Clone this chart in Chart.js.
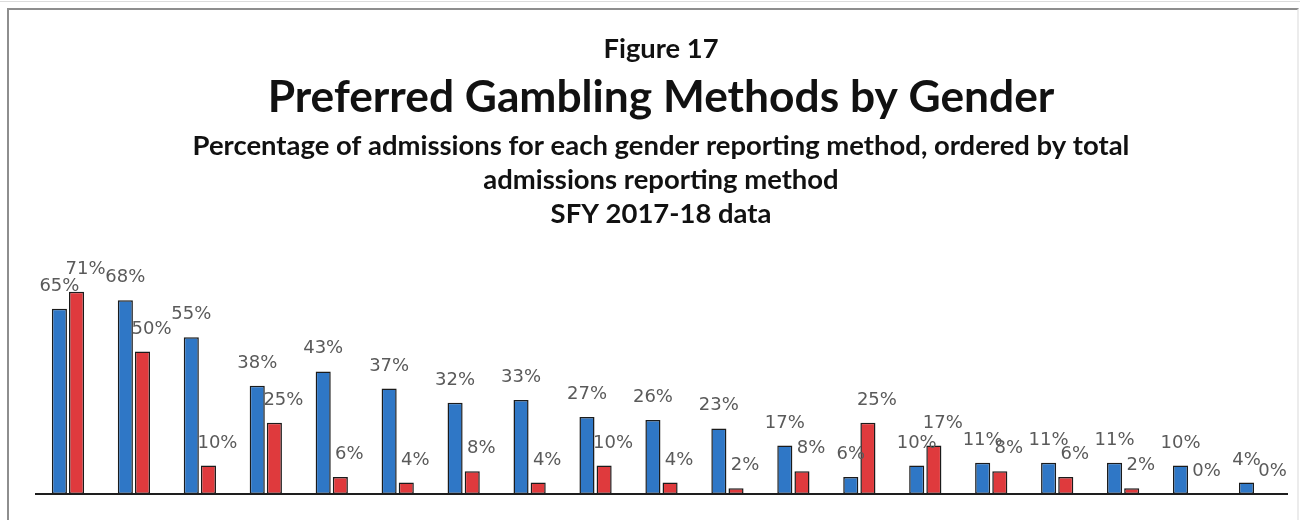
<!DOCTYPE html>
<html>
<head>
<meta charset="utf-8">
<title>Preferred Gambling Methods by Gender</title>
<script src="https://cdn.jsdelivr.net/npm/chart.js@4.4.1/dist/chart.umd.min.js"></script>
<style>
    body { margin: 0; background: #fff; }
    #wrap { position: relative; width: 1300px; height: 520px; overflow: hidden; }
    #frame {
        position: absolute; left: 7px; top: 8px; width: 1288px; height: 600px;
        border: 2px solid #8e8e8e; border-right-color: #ececec;
    }
    #topline { position: absolute; left: 0; top: 1px; width: 1300px; height: 1px; background: #dcdcdc; }
    #chart { position: absolute; left: 0; top: 0; }
</style>
</head>
<body>
<div id="wrap">
    <div id="topline"></div>
    <div id="frame"></div>
    <canvas id="chart" width="1300" height="520"></canvas>
</div>
<script>
// category names are cut off at the bottom of the source image
const categories = [
    'Method 1', 'Method 2', 'Method 3', 'Method 4', 'Method 5', 'Method 6', 'Method 7',
    'Method 8', 'Method 9', 'Method 10', 'Method 11', 'Method 12', 'Method 13', 'Method 14',
    'Method 15', 'Method 16', 'Method 17', 'Method 18', 'Method 19'
];
const maleValues = [65, 68, 55, 38, 43, 37, 32, 33, 27, 26, 23, 17, 6, 10, 11, 11, 11, 10, 4];
const femaleValues = [71, 50, 10, 25, 6, 4, 8, 4, 10, 4, 2, 8, 25, 17, 8, 6, 2, 0, 0];

const figureLabel = 'Figure 17';
const chartTitle = 'Preferred Gambling Methods by Gender';
const subtitleLines = [
    'Percentage of admissions for each gender reporting method, ordered by total',
    'admissions reporting method',
    'SFY 2017-18 data'
];

const titleFamily = 'Lato, "Open Sans", sans-serif';

// size a bold font so the text spans the given width
function fitSize(ctx, text, width) {
    ctx.font = 'bold 100px ' + titleFamily;
    return 100 * width / ctx.measureText(text).width;
}

const titleBlock = {
    id: 'titleBlock',
    afterDraw(chart) {
        const ctx = chart.ctx;
        const cx = 661;
        ctx.save();
        ctx.fillStyle = '#111';
        ctx.textAlign = 'center';
        ctx.textBaseline = 'alphabetic';

        let size = fitSize(ctx, figureLabel, 115);
        ctx.font = 'bold ' + size + 'px ' + titleFamily;
        ctx.fillText(figureLabel, cx, 58);

        size = fitSize(ctx, chartTitle, 787);
        ctx.font = 'bold ' + size + 'px ' + titleFamily;
        ctx.fillText(chartTitle, cx, 112);

        size = fitSize(ctx, subtitleLines[0], 937);
        ctx.font = 'bold ' + size + 'px ' + titleFamily;
        const baselines = [155, 189, 223];
        subtitleLines.forEach((line, i) => ctx.fillText(line, cx, baselines[i]));
        ctx.restore();
    }
};

// label nudge per series: the female labels sit a little right of their bars
const labelShift = [0, 9];

const barLabels = {
    id: 'barLabels',
    afterDatasetsDraw(chart) {
        const ctx = chart.ctx;
        const zero = chart.scales.y.getPixelForValue(0);

        ctx.save();
        ctx.strokeStyle = '#1e1e1e';
        ctx.lineWidth = 2;
        ctx.beginPath();
        ctx.moveTo(chart.chartArea.left, zero);
        ctx.lineTo(chart.chartArea.right, zero);
        ctx.stroke();

        ctx.font = '18px "DejaVu Sans", Verdana, sans-serif';
        ctx.fillStyle = '#5a5a5a';
        ctx.textAlign = 'center';
        ctx.textBaseline = 'alphabetic';
        chart.data.datasets.forEach((ds, i) => {
            const meta = chart.getDatasetMeta(i);
            meta.data.forEach((bar, j) => {
                ctx.fillText(ds.data[j] + '%', bar.x + labelShift[i], bar.y - 18);
            });
        });
        ctx.restore();
    }
};

const ctx = document.getElementById('chart').getContext('2d');
new Chart(ctx, {
    type: 'bar',
    data: {
        labels: categories,
        datasets: [{
            label: 'Male',
            data: maleValues,
            backgroundColor: '#2f77c6',
            borderColor: '#1b1b1b',
            borderWidth: 1.5,
            borderSkipped: false
        }, {
            label: 'Female',
            data: femaleValues,
            backgroundColor: '#df3a3d',
            borderColor: '#1b1b1b',
            borderWidth: 1.5,
            borderSkipped: false
        }]
    },
    options: {
        responsive: false,
        animation: false,
        layout: {
            padding: { left: 35, right: 12, top: 266, bottom: 26 }
        },
        datasets: {
            bar: { categoryPercentage: 0.52, barPercentage: 0.88 }
        },
        plugins: {
            legend: { display: false },
            tooltip: { enabled: false },
            title: { display: false }
        },
        scales: {
            x: { display: false, grid: { display: false } },
            y: { display: false, min: 0, max: 80, grid: { display: false } }
        }
    },
    plugins: [barLabels, titleBlock]
});
</script>
</body>
</html>
